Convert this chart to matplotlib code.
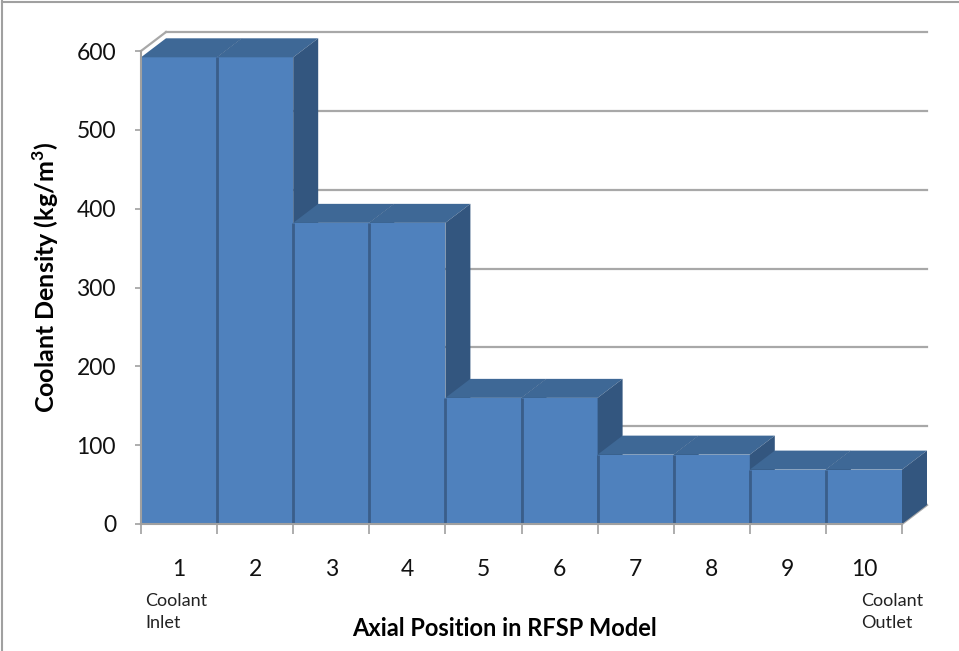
import matplotlib
matplotlib.use('Agg')
import matplotlib.pyplot as plt
from matplotlib.patches import Polygon
import numpy as np

# ---- data ----
positions = [1, 2, 3, 4, 5, 6, 7, 8, 9, 10]
position_labels = ['1', '2', '3', '4', '5', '6', '7', '8', '9', '10']
density = [592, 592, 382, 382, 160, 160, 88, 88, 69, 69]
yticks = [0, 100, 200, 300, 400, 500, 600]
xlabel = 'Axial Position in RFSP Model'
ylabel = 'Coolant Density (kg/m$^\\mathregular{3}$)'
inlet_note = 'Coolant\nInlet'
outlet_note = 'Coolant\nOutlet'

# ---- style ----
plt.rcParams['font.family'] = ['Lato', 'DejaVu Sans']
FRONT = '#4F81BD'
TOP = '#3E6896'
SIDE = '#33567F'
EDGE = '#3A5E8A'
GRID = '#A8A8A8'
AXC = '#A0A0A0'

W, H = 959, 651
fig = plt.figure(figsize=(W / 100, H / 100), dpi=100)
fig.patch.set_facecolor('white')

# figure border (top and left)
fig.add_artist(plt.Line2D([2 / W, 2 / W], [0, 1 - 1 / H], color=AXC, lw=1.5, transform=fig.transFigure))
fig.add_artist(plt.Line2D([2 / W, 1], [1 - 1.5 / H, 1 - 1.5 / H], color=AXC, lw=1.5, transform=fig.transFigure))

ax = fig.add_axes([141 / W, (H - 524) / H, (902 - 141) / W, (524 - 51) / H])
ax.set_xlim(0.5, 10.5)
ax.set_ylim(0, 600)
for s in ax.spines.values():
    s.set_visible(False)
ax.patch.set_visible(False)

# 3D depth offsets (pixels -> data)
DX_PX, DY_PX = 25, 19
inv = ax.transData.inverted()
o = ax.transData.transform((0, 0))
ddx, ddy = inv.transform(o + np.array([DX_PX, DY_PX]))

x0 = positions[0] - 0.5
x1 = positions[-1] + 0.5
ytop = yticks[-1]

# back wall gridlines
for v in yticks[1:]:
    ax.plot([x0 + ddx, x1 + ddx], [v + ddy, v + ddy], color=GRID, lw=1.6,
            clip_on=False, zorder=1)
# left wall top edge
ax.plot([x0, x0 + ddx], [ytop, ytop + ddy], color=GRID, lw=1.6, clip_on=False, zorder=1)
# floor right edge
ax.plot([x1, x1 + ddx], [0, ddy], color=GRID, lw=1.6, clip_on=False, zorder=1)

# bars with pseudo-3D faces
for i, (x, h) in enumerate(zip(positions, density)):
    z = 2 + i * 0.01
    l, r = x - 0.5, x + 0.5
    ax.add_patch(Polygon([(l, 0), (r, 0), (r, h), (l, h)], closed=True,
                         fc=FRONT, ec='none', zorder=z, clip_on=False))
    ax.add_patch(Polygon([(l, h), (r, h), (r + ddx, h + ddy), (l + ddx, h + ddy)],
                         closed=True, fc=TOP, ec='none', zorder=z, clip_on=False))
    ax.add_patch(Polygon([(r, 0), (r + ddx, ddy), (r + ddx, h + ddy), (r, h)],
                         closed=True, fc=SIDE, ec='none', zorder=z, clip_on=False))
    if i > 0:
        ax.plot([l, l], [0, h], color=EDGE, lw=2.0, zorder=z + 0.001,
                solid_capstyle='butt', clip_on=False)

# axis lines
ax.plot([x0, x0], [0, ytop], color=AXC, lw=1.5, zorder=5, clip_on=False)
ax.plot([x0, x1], [0, 0], color=AXC, lw=1.5, zorder=5, clip_on=False)

# ticks
ax.set_yticks(yticks)
ax.set_yticklabels([str(v) for v in yticks])
ax.tick_params(axis='y', length=4, width=1.2, color=AXC, labelsize=16.5,
               pad=14, labelcolor='#111111')
ax.set_xticks(positions)
ax.set_xticklabels(position_labels)
ax.set_xticks(np.arange(x0, x1 + 0.01, 1.0), minor=True)
ax.tick_params(axis='x', which='major', length=0, labelsize=16.5, pad=25,
               labelcolor='#111111')
ax.tick_params(axis='x', which='minor', length=7, width=1.2, color=AXC)

# labels
fig.text(46 / W, 1 - 278 / H, ylabel, rotation=90, ha='center', va='center',
         fontsize=18, fontweight='bold')
fig.text(505 / W, 1 - 628 / H, xlabel, ha='center', va='center',
         fontsize=17, fontweight='bold')
fig.text(145 / W, 1 - 612 / H, inlet_note, ha='left', va='center',
         fontsize=13, linespacing=1.5, color='#222222')
fig.text(861 / W, 1 - 612 / H, outlet_note, ha='left', va='center',
         fontsize=13, linespacing=1.5, color='#222222')

fig.savefig('out.png', dpi=100, facecolor='white')
